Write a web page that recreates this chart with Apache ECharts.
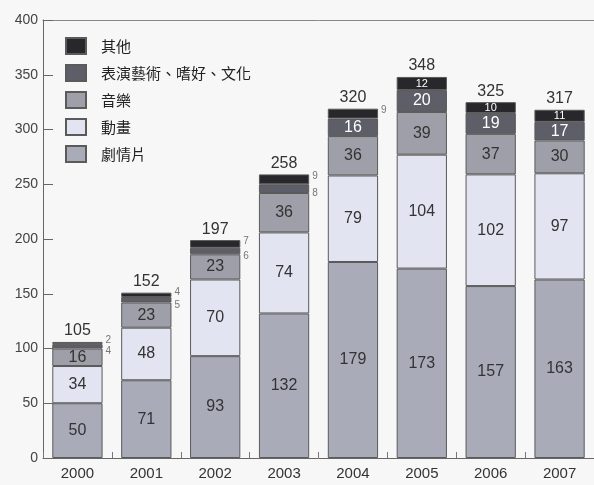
<!DOCTYPE html>
<html><head><meta charset="utf-8">
<script src="https://cdn.jsdelivr.net/npm/echarts@6/dist/echarts.min.js"></script>
<style>html,body{margin:0;padding:0;background:#f7f7f7;}#c{width:594px;height:485px;}</style>
</head><body><div id="c"></div>
<script>
const years = ['2000','2001','2002','2003','2004','2005','2006','2007'];
const drama = [50, 71, 93, 132, 179, 173, 157, 163];
const anime = [34, 48, 70, 74, 79, 104, 102, 97];
const music = [16, 23, 23, 36, 36, 39, 37, 30];
const perform = [4, 5, 6, 8, 16, 20, 19, 17];
const other = [2, 4, 7, 9, 9, 12, 10, 11];
const totals = [105, 152, 197, 258, 320, 348, 325, 317];
const yTicks = [0, 50, 100, 150, 200, 250, 300, 350, 400];

const names = ['劇情片', '動畫', '音樂', '表演藝術、嗜好、文化', '其他'];
const colors = ['#a9abb9', '#e3e4f1', '#9e9fa8', '#5d5e67', '#27272c'];
const numFont = "'Liberation Sans', Arial, sans-serif";

function mkData(vals, kind) {
  return vals.map(v => {
    if (v < 10) {
      return { value: v, label: { position: 'right', distance: 3, fontSize: 10, color: '#777',
        offset: kind === 'other' ? [0, -3] : [0, 5] } };
    }
    return v;
  });
}
function series(name, vals, idx, labelColor, fs, kind) {
  return {
    name: name, type: 'bar', stack: 's', barWidth: '73%',
    data: kind ? mkData(vals, kind) : vals,
    itemStyle: { color: colors[idx], borderColor: '#5a5a5a', borderWidth: 1 },
    label: { show: true, position: 'inside', color: labelColor, fontSize: fs, fontFamily: numFont },
    emphasis: { disabled: true }
  };
}
const chart = echarts.init(document.getElementById('c'));
chart.setOption({
  backgroundColor: '#f7f7f7',
  animation: false,
  grid: { left: 43, top: 20, width: 556, height: 438, containLabel: false },
  legend: {
    data: ['其他', '表演藝術、嗜好、文化', '音樂', '動畫', '劇情片'],
    orient: 'vertical', left: 60, top: 32, itemWidth: 20, itemHeight: 16, itemGap: 9,
    icon: 'rect',
    textStyle: { fontSize: 15, color: '#222', fontFamily: "'Noto Sans CJK TC', sans-serif", padding: [0, 0, 0, 10] }
  },
  xAxis: [{
    type: 'category', data: years,
    axisLine: { lineStyle: { color: '#666', width: 1 } },
    axisTick: { show: true, inside: true, length: 6, lineStyle: { color: '#777' } },
    axisLabel: { fontSize: 15, color: '#333', margin: 8, fontFamily: numFont }
  }, {
    type: 'category', data: years, position: 'top',
    axisLine: { lineStyle: { color: '#888', width: 1 } },
    axisTick: { show: false }, axisLabel: { show: false }
  }],
  yAxis: {
    type: 'value', min: yTicks[0], max: yTicks[yTicks.length - 1], interval: 50,
    splitLine: { show: false },
    axisLine: { show: true, lineStyle: { color: '#666', width: 1 } },
    axisTick: { show: true, inside: true, length: 10, lineStyle: { color: '#666' } },
    axisLabel: { fontSize: 14, color: '#444', margin: 5, fontFamily: "'Liberation Sans Narrow', 'Liberation Sans', sans-serif" }
  },
  series: [
    series('劇情片', drama, 0, '#333', 16),
    series('動畫', anime, 1, '#333', 16),
    series('音樂', music, 2, '#333', 16),
    series('表演藝術、嗜好、文化', perform, 3, '#fff', 16, 'perform'),
    series('其他', other, 4, '#fff', 11, 'other'),
    {
      name: 'total', type: 'bar', stack: 's', barWidth: '73%',
      data: totals.map(() => 0),
      itemStyle: { color: 'transparent', borderWidth: 0 },
      label: { show: true, position: 'top', distance: 3, color: '#333', fontSize: 16, fontFamily: numFont,
        formatter: p => totals[p.dataIndex] },
      emphasis: { disabled: true }
    }
  ]
});
</script></body></html>
